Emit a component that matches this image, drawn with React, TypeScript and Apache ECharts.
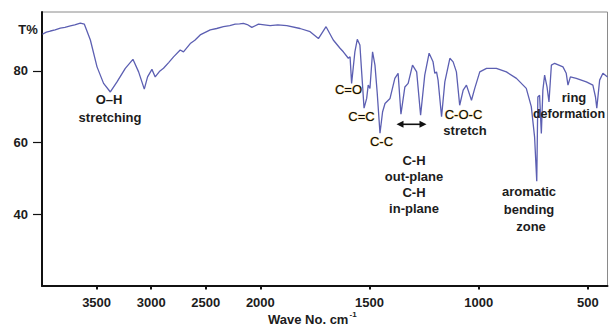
import React, { useEffect, useRef } from "react";
import * as echarts from "echarts";

// Wavenumber (cm^-1) and transmittance (%)
const wavenumbers = [
  3996, 3960, 3923, 3880, 3832, 3790, 3740, 3700, 3649, 3612, 3557, 3496, 3436, 3374, 3313, 3237, 3167, 3115,
  3063, 3033, 2993, 2963, 2925, 2887, 2840, 2795, 2734, 2704, 2642, 2600, 2551, 2459, 2400, 2338, 2280, 2231,
  2190, 2155, 2120, 2078, 2017, 1955, 1920, 1879, 1818, 1772, 1734, 1699, 1666, 1635, 1620, 1597, 1589, 1582,
  1567, 1556, 1544, 1536, 1525, 1513, 1506, 1498, 1486, 1475, 1465, 1452, 1440, 1429, 1406, 1384, 1369, 1356,
  1338, 1323, 1303, 1284, 1266, 1247, 1227, 1209, 1201, 1193, 1186, 1170, 1155, 1132, 1117, 1102, 1087, 1071,
  1056, 1033, 1018, 995, 964, 919, 873, 827, 782, 759, 744, 734, 729, 721, 713, 706, 698, 687, 678, 667, 652,
  614, 599, 591, 580, 553, 507, 477, 465, 459, 446, 431, 410,
];
const transmittance = [
  90.2, 90.8, 91.1, 91.4, 91.9, 92.1, 92.5, 92.8, 93.3, 93.0, 88.6, 81.1, 76.5, 74.1, 76.9, 80.7, 83.2, 79.7,
  74.9, 78.3, 80.4, 78.3, 79.8, 80.7, 82.3, 83.9, 85.8, 85.3, 87.6, 88.5, 90.0, 91.4, 91.8, 92.3, 92.6, 93.0,
  93.1, 93.2, 92.9, 92.1, 93.0, 92.6, 92.8, 92.6, 91.8, 90.9, 89.0, 92.3, 88.6, 86.3, 85.3, 83.5, 83.9, 76.5,
  85.3, 88.8, 87.2, 79.7, 69.6, 72.3, 76.0, 75.1, 85.3, 81.6, 74.1, 62.6, 68.6, 70.9, 72.3, 77.9, 79.3, 67.9,
  75.5, 76.5, 81.6, 79.7, 67.6, 78.8, 84.9, 82.5, 79.3, 79.7, 77.4, 67.2, 76.9, 83.5, 82.5, 79.7, 70.4, 74.6,
  76.0, 71.8, 75.1, 79.7, 80.7, 80.7, 79.7, 77.9, 75.1, 70.0, 61.6, 49.2, 72.7, 73.2, 62.5, 74.6, 78.8, 75.5,
  71.3, 81.6, 82.1, 81.1, 79.3, 76.0, 78.3, 77.9, 76.9, 76.0, 72.7, 69.6, 77.4, 79.3, 78.3,
];
const xTickLabels = [3500, 3000, 2500, 2000, 1500, 1000, 500];
const yTickLabels = [40, 60, 80];

// The wavenumber axis is drawn at double scale below 2000 cm^-1
const BREAK = 2000;
const toAxis = (w: number) => (w >= BREAK ? w : 2 * w - BREAK);
const fromAxis = (u: number) => (u >= BREAK ? u : (u + BREAK) / 2);

export default function App() {
  const ref = useRef<HTMLDivElement>(null);
  useEffect(() => {
    const chart = echarts.init(ref.current!, null, { renderer: "svg" });
    const boldFont = "bold 13px 'Liberation Sans', Arial, sans-serif";
    const plainFont = "13px 'Liberation Sans', Arial, sans-serif";
    const label = (text: string, x: number, y: number, font = boldFont, glow = false) => ({
      type: "text",
      x,
      y,
      silent: true,
      style: {
        text,
        font,
        fill: glow ? "#0a0a0a" : "#1c1c1c",
        align: "center",
        verticalAlign: "middle",
        ...(glow ? { stroke: "#ebc15e", lineWidth: 0.7 } : {}),
      },
      z: 10,
    });
    const tickValues = xTickLabels.map(toAxis);
    chart.setOption({
      animation: false,
      backgroundColor: "#ffffff",
      grid: {
        left: 42,
        right: 1.5,
        top: 12,
        bottom: 41,
        show: true,
        borderColor: "#8a8a8a",
        borderWidth: 1,
        backgroundColor: "transparent",
      },
      xAxis: {
        type: "value",
        inverse: true,
        min: toAxis(410),
        max: 4000,
        axisLine: { show: true, onZero: false, lineStyle: { color: "#111", width: 2 } },
        axisTick: { show: true, customValues: tickValues, length: 3.5, lineStyle: { color: "#111", width: 2 } },
        axisLabel: {
          customValues: tickValues,
          formatter: (u: number) => String(Math.round(fromAxis(u))),
          fontFamily: "Liberation Sans",
          fontWeight: "bold",
          fontSize: 13,
          color: "#1c1c1c",
          margin: 10,
        },
        splitLine: { show: false },
      },
      yAxis: {
        type: "value",
        min: 20,
        max: 96.4,
        axisLine: { show: true, onZero: false, lineStyle: { color: "#111", width: 2 } },
        axisTick: { show: true, customValues: yTickLabels, length: 9, lineStyle: { color: "#111", width: 1.2 } },
        axisLabel: {
          customValues: yTickLabels,
          fontFamily: "Liberation Sans",
          fontWeight: "bold",
          fontSize: 13,
          color: "#1c1c1c",
          margin: 14,
        },
        splitLine: { show: false },
      },
      series: [
        {
          type: "line",
          data: wavenumbers.map((w, i) => [toAxis(w), transmittance[i]]),
          showSymbol: false,
          smooth: false,
          lineStyle: { color: "#5c5fb2", width: 1.3 },
        },
      ],
      graphic: [
        label("T%", 28, 29),
        label("O\u2013H", 109, 99),
        label("stretching", 110, 117),
        label("C=O", 348.5, 89, plainFont, true),
        label("C=C", 361.5, 116, plainFont, true),
        label("C-C", 381.5, 141.5, plainFont, true),
        label("C-H", 414, 160),
        label("out-plane", 414, 176.5),
        label("C-H", 414, 192),
        label("in-plane", 414, 208.5),
        label("C-O-C", 463.5, 114, plainFont, true),
        label("stretch", 465, 130),
        label("ring", 574, 97),
        label("deformation", 569, 113.5, "bold 12.5px 'Liberation Sans', Arial, sans-serif"),
        label("aromatic", 529, 191.5),
        label("bending", 529, 209),
        label("zone", 531, 226),
        {
          type: "text",
          x: 268,
          y: 319,
          silent: true,
          style: { text: "Wave No. cm", font: boldFont, fill: "#1c1c1c", align: "left", verticalAlign: "middle" },
        },
        {
          type: "text",
          x: 349.5,
          y: 314,
          silent: true,
          style: {
            text: "-1",
            font: "bold 8px 'Liberation Sans', Arial, sans-serif",
            fill: "#1c1c1c",
            align: "left",
            verticalAlign: "middle",
          },
        },
        {
          type: "line",
          silent: true,
          shape: { x1: 401, y1: 124.3, x2: 422, y2: 124.3 },
          style: { stroke: "#111", lineWidth: 1.6 },
          z: 10,
        },
        {
          type: "polygon",
          silent: true,
          shape: { points: [[396.5, 124.3], [403.5, 120.8], [403.5, 127.8]] },
          style: { fill: "#111" },
          z: 10,
        },
        {
          type: "polygon",
          silent: true,
          shape: { points: [[426.5, 124.3], [419.5, 120.8], [419.5, 127.8]] },
          style: { fill: "#111" },
          z: 10,
        },
      ],
    });
    return () => chart.dispose();
  }, []);
  return (
    <div
      ref={ref}
      style={{ position: "fixed", left: 0, top: 0, width: 609, height: 327, background: "#fff" }}
    />
  );
}
